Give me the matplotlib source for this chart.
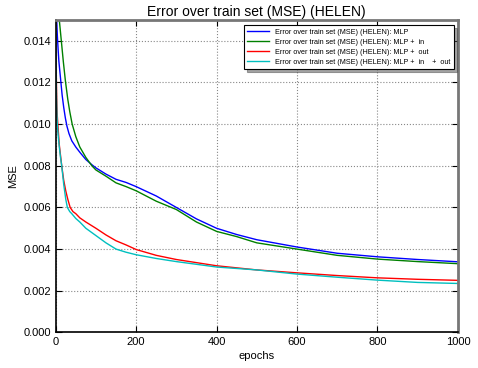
import numpy as np
import matplotlib
matplotlib.use('Agg')
import matplotlib.pyplot as plt

plt.rcParams['font.family'] = ['Liberation Sans', 'DejaVu Sans']

# values (epoch, MSE)
ep_mlp = [0, 1, 2, 4, 6, 8, 10, 13, 16, 20, 24, 28, 33, 40, 50, 60, 75, 90, 100, 125, 150, 175, 200, 250, 300,
          350, 400, 450, 500, 600, 700, 800, 900, 1000]
mse_mlp = [0.0200, 0.0165, 0.0152, 0.0143, 0.0136, 0.0130, 0.0126, 0.0120, 0.0114, 0.0108, 0.0103, 0.0099, 0.00955,
           0.0092, 0.0089, 0.00865, 0.0083, 0.00805, 0.0079, 0.0076, 0.00735, 0.0072, 0.0070, 0.00655, 0.0060,
           0.00545, 0.0050, 0.0047, 0.00445, 0.0041, 0.0038, 0.00363, 0.0035, 0.00339]

ep_in = [0, 3, 6, 9, 14, 19, 24, 30, 35, 41, 50, 60, 75, 90, 100, 125, 150, 175, 200, 250, 300, 350, 400, 450,
         500, 600, 700, 800, 900, 1000]
mse_in = [0.0250, 0.0190, 0.0163, 0.0150, 0.0140, 0.0130, 0.0121, 0.0112, 0.0106, 0.0100, 0.0094, 0.0089, 0.0084,
          0.0080, 0.0078, 0.0075, 0.00718, 0.0070, 0.0068, 0.0063, 0.0059, 0.0053, 0.00485, 0.0046, 0.0043,
          0.0040, 0.0037, 0.00352, 0.0034, 0.0033]

ep_out = [0, 1, 2, 3, 4, 6, 9, 12, 15, 20, 25, 30, 36, 43, 50, 60, 75, 100, 125, 150, 175, 200, 250, 300, 350,
          400, 500, 600, 700, 800, 900, 1000]
mse_out = [0.0150, 0.0130, 0.0118, 0.0109, 0.0104, 0.0098, 0.0090, 0.0085, 0.0080, 0.0073, 0.0068, 0.0064, 0.0060,
           0.0058, 0.0057, 0.0055, 0.0053, 0.0050, 0.00468, 0.0044, 0.0042, 0.00398, 0.0037, 0.0035, 0.00335,
           0.0032, 0.0030, 0.00286, 0.00273, 0.00262, 0.00255, 0.0025]

ep_inout = [0, 1, 2, 3, 4, 6, 9, 12, 15, 20, 25, 29, 35, 40, 50, 60, 75, 100, 125, 150, 175, 200, 250, 300, 400,
            500, 600, 700, 800, 900, 1000]
mse_inout = [0.0150, 0.0125, 0.0113, 0.0105, 0.0100, 0.0095, 0.0089, 0.0084, 0.0080, 0.0071, 0.0064, 0.0060,
             0.0058, 0.0057, 0.00547, 0.0053, 0.0050, 0.00465, 0.0043, 0.0040, 0.00385, 0.00373, 0.00355, 0.0034,
             0.00314, 0.0030, 0.0028, 0.00265, 0.00251, 0.0024, 0.00235]

labels = ["Error over train set (MSE) (HELEN): MLP",
          "Error over train set (MSE) (HELEN): MLP +  in",
          "Error over train set (MSE) (HELEN): MLP +  out",
          "Error over train set (MSE) (HELEN): MLP +  in    +  out"]
colors = ["#0000ff", "#008000", "#ff0000", "#00bfbf"]

fig = plt.figure(figsize=(4.78, 3.68), dpi=100)
ax = fig.add_axes([0.1165, 0.0967, 0.8415, 0.849])

series = [(ep_mlp, mse_mlp), (ep_in, mse_in), (ep_out, mse_out), (ep_inout, mse_inout)]
for (x, y), lab, c in zip(series, labels, colors):
    ax.plot(x, y, color=c, linewidth=1.0, label=lab)

ax.set_xlim(0, 1000)
ax.set_ylim(0, 0.015)
yt = np.arange(0, 0.0141, 0.002)
ax.set_yticks(yt)
ax.set_yticklabels(["%.3f" % v for v in yt])
ax.set_xticks([0, 200, 400, 600, 800, 1000])
ax.tick_params(direction='in', top=True, right=True, labelsize=8, length=4, pad=3)
ax.grid(True, linestyle=':', color='#888888', linewidth=0.8)

for s in ['left', 'bottom']:
    ax.spines[s].set_linewidth(1.2)
for s in ['top', 'right']:
    ax.spines[s].set_linewidth(2)
    ax.spines[s].set_color('#777777')

ax.set_title("Error over train set (MSE) (HELEN)", fontsize=10, pad=3)
ax.set_xlabel("epochs", fontsize=8, labelpad=3)
ax.set_ylabel("MSE", fontsize=8, labelpad=4)

leg = ax.legend(loc='upper right', fontsize=5.2, shadow=True, fancybox=False, framealpha=1,
                handlelength=3, borderpad=0.5, labelspacing=0.4, bbox_to_anchor=(0.999, 0.995))
leg.get_frame().set_edgecolor('black')
leg.get_frame().set_linewidth(0.8)

fig.savefig("out.png", dpi=100)
